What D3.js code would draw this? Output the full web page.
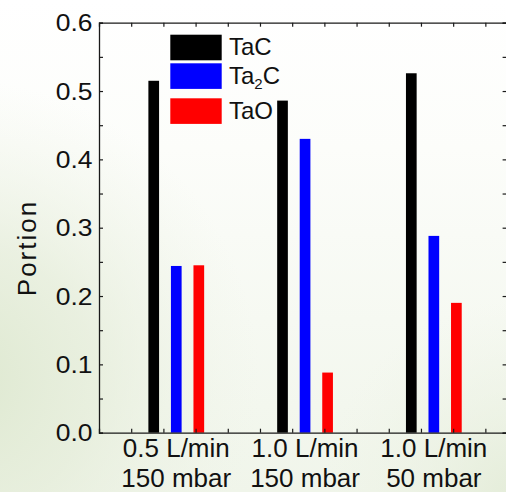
<!DOCTYPE html>
<html>
<head>
<meta charset="utf-8">
<script src="https://cdn.jsdelivr.net/npm/d3@7"></script>
<style>
  html, body { margin: 0; padding: 0; background: #fff; }
  svg { display: block; }
  text { font-family: "Liberation Sans", Arial, sans-serif; fill: #111; }
</style>
</head>
<body>
<svg id="chart" width="506" height="492"></svg>
<script>
// Phase fractions for three deposition conditions
const conditionFlow = ["0.5 L/min", "1.0 L/min", "1.0 L/min"];
const conditionPressure = ["150 mbar", "150 mbar", "50 mbar"];
const phaseNames = ["TaC", "Ta2C", "TaO"];
const phaseColors = ["#000000", "#0000ff", "#ff0000"];
const tacValues = [0.515, 0.486, 0.526];
const ta2cValues = [0.244, 0.430, 0.288];
const taoValues = [0.245, 0.088, 0.190];
const yTickValues = [0.0, 0.1, 0.2, 0.3, 0.4, 0.5, 0.6];

const seriesValues = [tacValues, ta2cValues, taoValues];

const W = 506, H = 492;
const margin = { left: 99, top: 22.7, right: -0.6, bottom: 59.3 };
const svg = d3.select("#chart");

// Soft slide-style background: white at the top, pale green lower left
const defs = svg.append("defs");
const bg = defs.append("linearGradient").attr("id", "bg")
  .attr("x1", "0").attr("y1", "0").attr("x2", "0").attr("y2", "1");
bg.append("stop").attr("offset", "0").attr("stop-color", "#ffffff");
bg.append("stop").attr("offset", "0.3").attr("stop-color", "#fcfdfa");
bg.append("stop").attr("offset", "1").attr("stop-color", "#f0f5ea");
svg.append("rect").attr("width", W).attr("height", H).attr("fill", "url(#bg)");

const glow = defs.append("radialGradient").attr("id", "glow")
  .attr("gradientUnits", "userSpaceOnUse")
  .attr("cx", -40).attr("cy", 380).attr("r", 300);
glow.append("stop").attr("offset", "0").attr("stop-color", "#dde8cf").attr("stop-opacity", 1);
glow.append("stop").attr("offset", "0.45").attr("stop-color", "#e4ecd8").attr("stop-opacity", 0.7);
glow.append("stop").attr("offset", "1").attr("stop-color", "#eef3e6").attr("stop-opacity", 0);
svg.append("rect").attr("width", W).attr("height", H).attr("fill", "url(#glow)");

const glow2 = defs.append("radialGradient").attr("id", "glow2")
  .attr("gradientUnits", "userSpaceOnUse")
  .attr("cx", 520).attr("cy", 500).attr("r", 200);
glow2.append("stop").attr("offset", "0").attr("stop-color", "#e2ebd6").attr("stop-opacity", 0.9);
glow2.append("stop").attr("offset", "1").attr("stop-color", "#eef3e6").attr("stop-opacity", 0);
svg.append("rect").attr("width", W).attr("height", H).attr("fill", "url(#glow2)");

const xLeft = margin.left, xRight = W - margin.right;
const yTop = margin.top, yBot = H - margin.bottom;

// Linear x axis: one unit per condition, ticks every quarter
const x = d3.scaleLinear().domain([0, 3.165]).range([xLeft, xRight]);
const y = d3.scaleLinear().domain([0, 0.6]).range([yBot, yTop]);

const groupCenter = i => i + 0.6;
const barOffset = 0.175;
const barWidth = x(0.083) - x(0);

// Bars
phaseNames.forEach((name, s) => {
  svg.append("g").selectAll("rect")
    .data(seriesValues[s])
    .join("rect")
    .attr("x", (d, i) => x(groupCenter(i) + (s - 1) * barOffset) - barWidth / 2)
    .attr("y", d => y(d))
    .attr("width", barWidth)
    .attr("height", d => y(0) - y(d))
    .attr("fill", phaseColors[s]);
});

// Frame and inward ticks
const axisColor = "#1a1a1a";
const yMinor = d3.range(0, 0.6001, 0.05);
const xTicks = d3.range(0.25, 3.16, 0.25);

const axisLeftG = svg.append("g").attr("transform", `translate(${xLeft},0)`)
  .call(d3.axisRight(y).tickValues(yMinor).tickSize(4).tickFormat(""));
const axisRightG = svg.append("g").attr("transform", `translate(${xRight},0)`)
  .call(d3.axisLeft(y).tickValues(yMinor).tickSize(4).tickFormat(""));
const axisBottomG = svg.append("g").attr("transform", `translate(0,${yBot})`)
  .call(d3.axisTop(x).tickValues(xTicks).tickSize(4).tickFormat(""));
const axisTopG = svg.append("g").attr("transform", `translate(0,${yTop})`)
  .call(d3.axisBottom(x).tickValues(xTicks).tickSize(4).tickFormat(""));
[axisLeftG, axisRightG, axisBottomG, axisTopG].forEach(g => {
  g.selectAll("path").attr("stroke", axisColor).attr("stroke-width", 1.3);
  g.selectAll("line").attr("stroke", axisColor).attr("stroke-width", 1.2);
});

// Y tick labels
svg.append("g").selectAll("text")
  .data(yTickValues)
  .join("text")
  .attr("transform", d => `translate(92.5,${y(d) + 8.5}) scale(1.15,1)`)
  .attr("text-anchor", "end")
  .attr("font-size", 23)
  .text(d => d.toFixed(1));

// Y axis title
svg.append("text")
  .attr("transform", "translate(36,248) rotate(-90)")
  .attr("text-anchor", "middle")
  .attr("font-size", 26)
  .attr("letter-spacing", 2)
  .text("Portion");

// Two-line condition labels
const catLabels = svg.append("g").selectAll("g")
  .data(conditionFlow)
  .join("g")
  .attr("transform", (d, i) => `translate(${x(groupCenter(i))},0)`);
catLabels.append("text")
  .attr("y", 457).attr("text-anchor", "middle").attr("font-size", 26)
  .text(d => d);
catLabels.append("text")
  .attr("y", 486.5).attr("text-anchor", "middle").attr("font-size", 26)
  .text((d, i) => conditionPressure[i]);

// Legend
const legendRows = [34.7, 63.3, 98.3];
const legend = svg.append("g");
phaseNames.forEach((name, s) => {
  legend.append("rect")
    .attr("x", 170.3).attr("y", legendRows[s])
    .attr("width", 51.4).attr("height", 25.6)
    .attr("fill", phaseColors[s]);
  const t = legend.append("text")
    .attr("x", 229).attr("y", legendRows[s] + 20.5)
    .attr("font-size", 24);
  if (name === "Ta2C") {
    t.append("tspan").text("Ta");
    t.append("tspan").attr("font-size", 15).attr("dy", 5).text("2");
    t.append("tspan").attr("dy", -5).text("C");
  } else {
    t.text(name);
  }
});
</script>
</body>
</html>
